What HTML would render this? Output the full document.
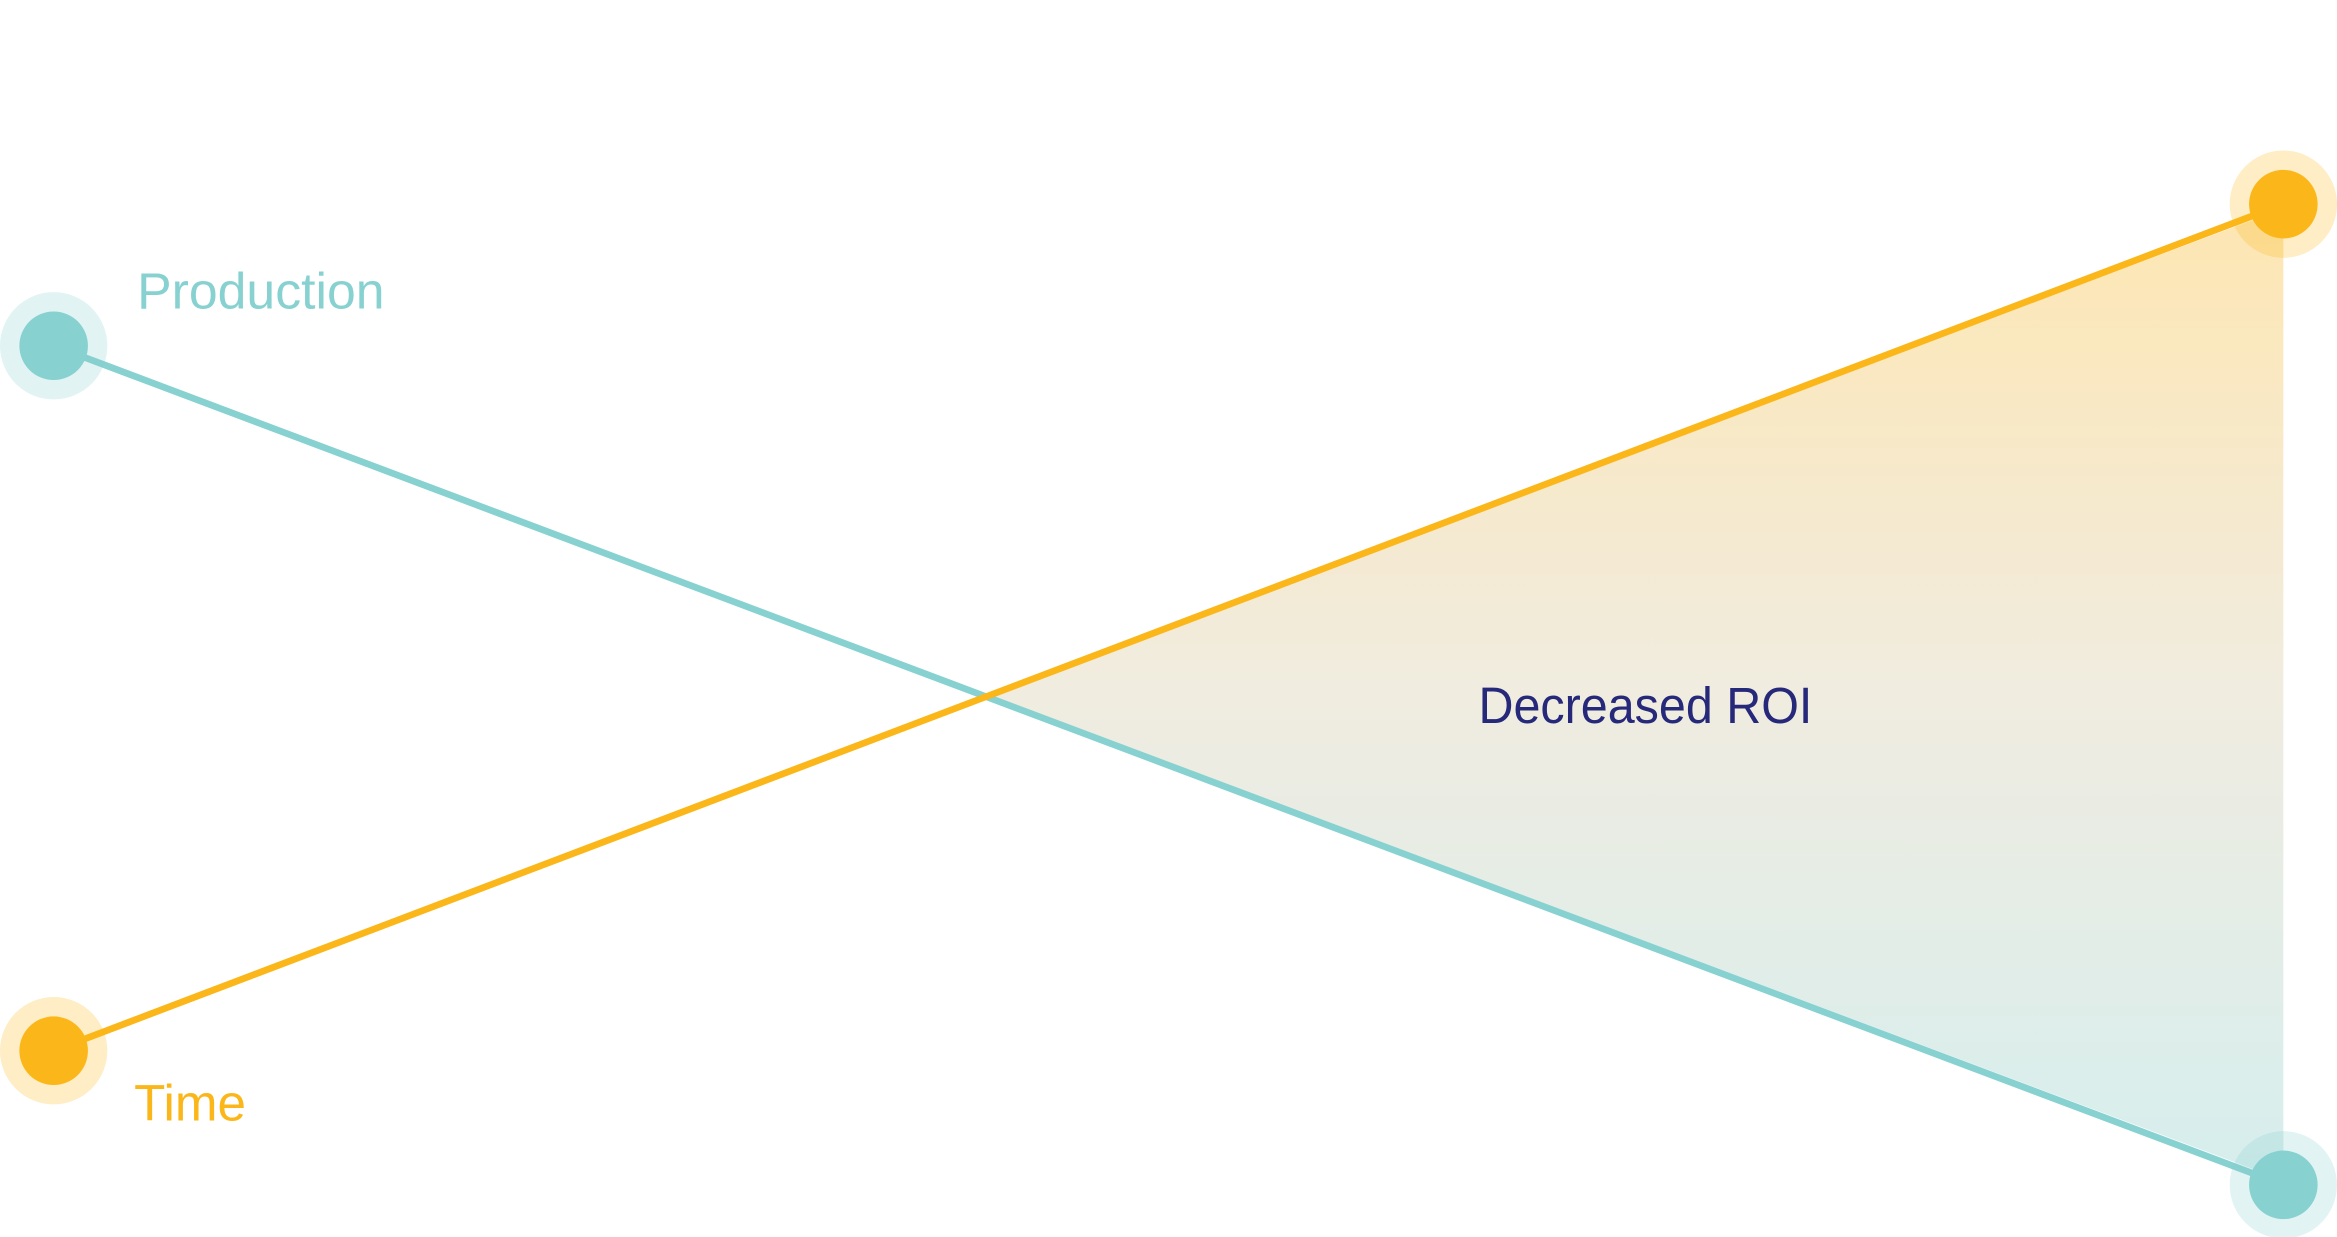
<!DOCTYPE html>
<html><head><meta charset="utf-8"><style>
html,body{margin:0;padding:0;background:#fff;}
svg{display:block;}
text{font-family:"Liberation Sans",sans-serif;}
</style></head><body>
<svg width="2337" height="1237" viewBox="0 0 1568 830" preserveAspectRatio="none" xmlns="http://www.w3.org/2000/svg">
<defs>
<linearGradient id="g" x1="0" y1="0" x2="0" y2="1">
<stop offset="0" stop-color="#fee6b2"/>
<stop offset="0.5" stop-color="#f0ece0"/>
<stop offset="1" stop-color="#d6eeee"/>
</linearGradient>
</defs>
<polygon points="662,466 1532,140 1532,792" fill="url(#g)"/>
<line x1="36" y1="232" x2="1532" y2="795" stroke="#88d1d1" stroke-width="4.5"/>
<line x1="36" y1="705" x2="1532" y2="137" stroke="#fbb719" stroke-width="4.5"/>
<circle cx="36" cy="232" r="36" fill="#88d1d1" fill-opacity="0.25"/>
<circle cx="36" cy="232" r="23" fill="#88d1d1"/>
<circle cx="36" cy="705" r="36" fill="#fbb719" fill-opacity="0.25"/>
<circle cx="36" cy="705" r="23" fill="#fbb719"/>
<circle cx="1532" cy="137" r="36" fill="#fbb719" fill-opacity="0.25"/>
<circle cx="1532" cy="137" r="23" fill="#fbb719"/>
<circle cx="1532" cy="795" r="36" fill="#88d1d1" fill-opacity="0.25"/>
<circle cx="1532" cy="795" r="23" fill="#88d1d1"/>
<text x="92" y="207" font-size="34" fill="#88d1d1" textLength="166" lengthAdjust="spacingAndGlyphs">Production</text>
<text x="992" y="485" font-size="34" fill="#26287a" textLength="224" lengthAdjust="spacingAndGlyphs">Decreased ROI</text>
<text x="90" y="752" font-size="34" fill="#fbb719" textLength="75" lengthAdjust="spacingAndGlyphs">Time</text>
</svg>
</body></html>
